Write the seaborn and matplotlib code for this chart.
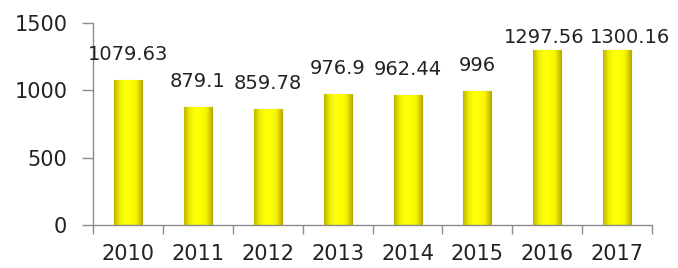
import numpy as np
import pandas as pd
import matplotlib
matplotlib.use("Agg")
import matplotlib.pyplot as plt
import seaborn as sns

years = ["2010", "2011", "2012", "2013", "2014", "2015", "2016", "2017"]
values = [1079.63, 879.1, 859.78, 976.9, 962.44, 996, 1297.56, 1300.16]
labels = ["1079.63", "879.1", "859.78", "976.9", "962.44", "996", "1297.56", "1300.16"]

# сдвиг подписей по горизонтали (пиксели), как в исходнике, чтобы не налезали
label_dx = [0, 0, 0, 0, 0, 0, -3, 13]

df = pd.DataFrame({"year": years, "value": values})

sns.set_style("white")
plt.rcParams["font.family"] = ["DejaVu Sans"]

fig = plt.figure(figsize=(6.78, 2.68), dpi=100)
ax = fig.add_axes([0.137, 0.160, 0.825, 0.754])

sns.barplot(data=df, x="year", y="value", color="#ffff00", width=0.4,
            edgecolor="#b8a800", linewidth=0.8, ax=ax)

# горизонтальный градиент на каждом столбике, чтобы был объём
cmap = matplotlib.colors.LinearSegmentedColormap.from_list(
    "yel", ["#c2b400", "#eeee00", "#ffff10", "#ffff00", "#f4f400", "#c2b400"])
grad = np.linspace(0, 1, 64).reshape(1, -1)
for p in ax.patches:
    x0, y0 = p.get_x(), p.get_y()
    w, h = p.get_width(), p.get_height()
    im = ax.imshow(grad, cmap=cmap, aspect="auto", extent=[x0, x0 + w, y0, y0 + h],
                   zorder=p.get_zorder() + 0.1)
    im.set_clip_path(p)

ax.set_xlim(-0.5, len(years) - 0.5)
ax.set_ylim(0, 1500)

# подписи: 20 px над столбиком, но не выше чем 20 px под верхом области
gap = 20
top_px = ax.transData.transform((0, 1500))[1]
for p, lab, dx in zip(ax.patches, labels, label_dx):
    bar_px = ax.transData.transform((0, p.get_height()))[1]
    base = min(bar_px + gap, top_px - gap)
    ax.annotate(lab, xy=(p.get_x() + p.get_width() / 2, base),
                xycoords=("data", "figure pixels"),
                xytext=(dx, 0), textcoords="offset pixels",
                ha="center", va="baseline", fontsize=14, color="#222222",
                annotation_clip=False)

ax.set_yticks([0, 500, 1000, 1500])
ax.set_xlabel("")
ax.set_ylabel("")

for s in ["top", "right"]:
    ax.spines[s].set_visible(False)
for s in ["left", "bottom"]:
    ax.spines[s].set_color("#8c8c8c")
    ax.spines[s].set_linewidth(1)

ax.set_xticks(np.arange(-0.5, len(years)), minor=True)
ax.tick_params(axis="x", which="major", bottom=True, length=0, pad=13.5,
               labelsize=15, labelcolor="#222222")
ax.tick_params(axis="x", which="minor", bottom=True, length=6.5, color="#8c8c8c",
               width=1, direction="out")
ax.tick_params(axis="y", left=True, length=8, color="#8c8c8c", width=1, direction="out",
               pad=10.5, labelsize=15, labelcolor="#222222")

fig.savefig("out.png", dpi=100)
